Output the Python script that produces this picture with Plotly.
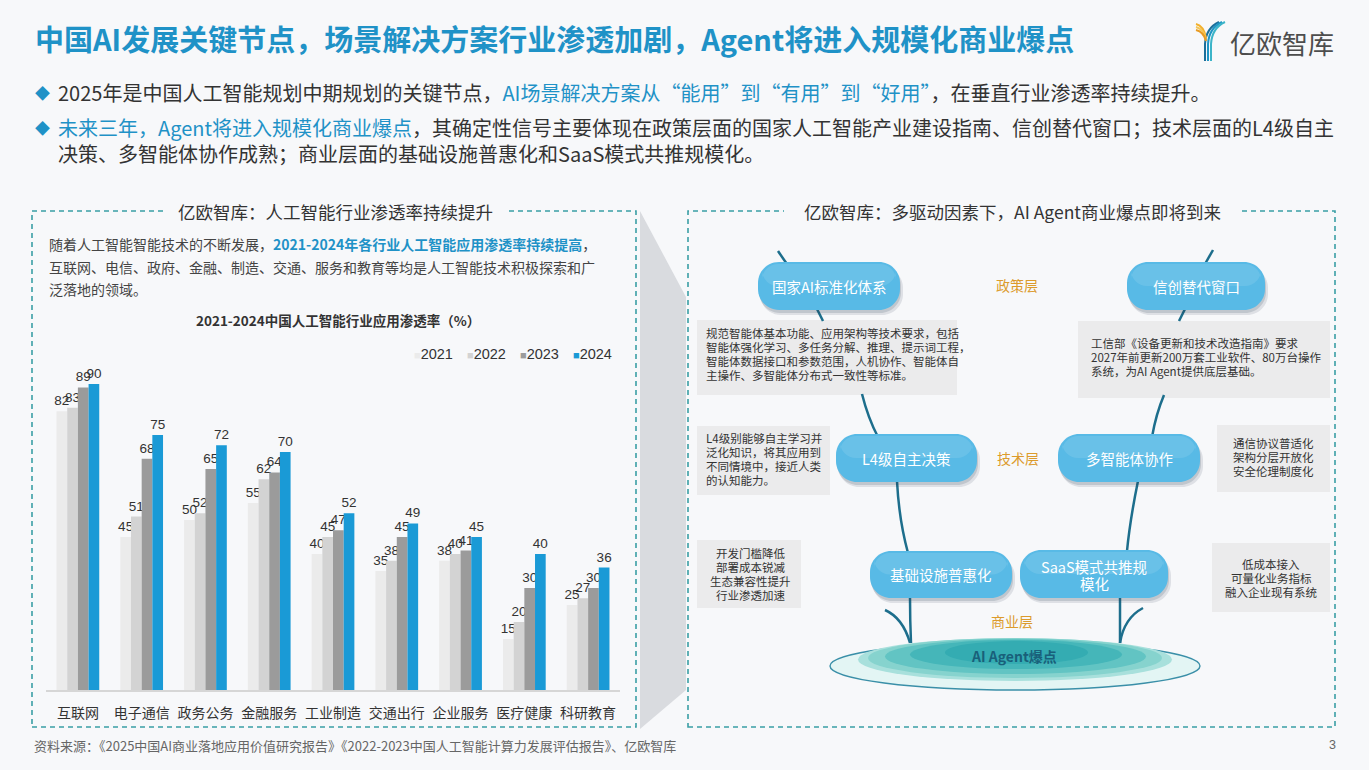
import plotly.graph_objects as go

W, H = 1369, 770
FONT = "Noto Sans CJK SC"
NUMFONT = "Liberation Sans, Noto Sans CJK SC"
BG = "#f7f8fa"
BLUE = "#1f92c7"
TEAL = "#3a9ea5"
LINE = "#1d6e8c"

# ---------------- data ----------------
categories = ["互联网", "电子通信", "政务公务", "金融服务", "工业制造", "交通出行", "企业服务", "医疗健康", "科研教育"]
years = ["2021", "2022", "2023", "2024"]
v2021 = [82, 45, 50, 55, 40, 35, 38, 15, 25]
v2022 = [83, 51, 52, 62, 45, 38, 40, 20, 27]
v2023 = [89, 68, 65, 64, 47, 45, 41, 30, 30]
v2024 = [90, 75, 72, 70, 52, 49, 45, 40, 36]
series_values = [v2021, v2022, v2023, v2024]
series_colors = ["#ebebeb", "#d3d3d3", "#9b9b9b", "#1a9ad6"]


def X(px):
    return px / W


def Y(py):
    return 1 - py / H


annotations = []
shapes = []


def txt(x, y, s, size, color="#333333", anchor="left", family=FONT, yanchor="middle"):
    annotations.append(dict(x=X(x), y=Y(y), xref="paper", yref="paper", text=s, showarrow=False,
                            xanchor=anchor, yanchor=yanchor, align=anchor if anchor != "center" else "center",
                            font=dict(size=size, color=color, family=family)))


def pt(x, y):
    return f"{X(x):.5f},{Y(y):.5f}"


def rrect_path(x0, y0, x1, y1, r):
    k = 0.5523 * r
    return ("M " + pt(x0 + r, y0) + " L " + pt(x1 - r, y0) +
            " C " + pt(x1 - r + k, y0) + " " + pt(x1, y0 + r - k) + " " + pt(x1, y0 + r) +
            " L " + pt(x1, y1 - r) +
            " C " + pt(x1, y1 - r + k) + " " + pt(x1 - r + k, y1) + " " + pt(x1 - r, y1) +
            " L " + pt(x0 + r, y1) +
            " C " + pt(x0 + r - k, y1) + " " + pt(x0, y1 - r + k) + " " + pt(x0, y1 - r) +
            " L " + pt(x0, y0 + r) +
            " C " + pt(x0, y0 + r - k) + " " + pt(x0 + r - k, y0) + " " + pt(x0 + r, y0) + " Z")


def rect(x0, y0, x1, y1, fill, line=None, dash=None, width=1.5):
    shapes.append(dict(type="rect", xref="paper", yref="paper", x0=X(x0), x1=X(x1), y0=Y(y1), y1=Y(y0),
                       fillcolor=fill, line=dict(color=line or "rgba(0,0,0,0)", width=width if line else 0, dash=dash),
                       layer="below"))


def path(d, color=LINE, width=2.5, fill=None):
    shapes.append(dict(type="path", xref="paper", yref="paper", path=d,
                       line=dict(color=color, width=width), fillcolor=fill or "rgba(0,0,0,0)", layer="below"))


def curve(x0, y0, cx, cy, x1, y1, color=LINE, width=2.5):
    path("M " + pt(x0, y0) + " Q " + pt(cx, cy) + " " + pt(x1, y1), color, width)


def ellipse(x0, y0, x1, y1, fill, line=None, width=1.5):
    shapes.append(dict(type="circle", xref="paper", yref="paper", x0=X(x0), x1=X(x1), y0=Y(y1), y1=Y(y0),
                       fillcolor=fill, line=dict(color=line or "rgba(0,0,0,0)", width=width if line else 0),
                       layer="below"))


# ---------------- header ----------------
txt(33, 38, "<b>中国AI发展关键节点，场景解决方案行业渗透加剧，Agent将进入规模化商业爆点</b>", 29, BLUE)

# logo
for i, c in enumerate(["#1c6f9a", "#1f95c5", "#3cb4c8"]):
    d = i * 3
    path("M " + pt(1205 + d, 61) + " L " + pt(1205 + d, 44) + " Q " + pt(1206 + d, 28) + " " + pt(1219 + d, 22), c, 2)
for i, c in enumerate(["#f2b02c", "#f4c554", "#e89a22"]):
    d = i * 3
    path("M " + pt(1196, 24 + d) + " Q " + pt(1204, 26 + d) + " " + pt(1206, 38 + d * 0.5), c, 2)
txt(1228, 43, "亿欧智库", 26, "#4d4d4d")

# bullets
txt(33, 93, "◆", 15, BLUE)
txt(56, 93, "2025年是中国人工智能规划中期规划的关键节点，"
    f"<span style='color:{BLUE}'>AI场景解决方案从“能用”到“有用”到“好用”</span>，在垂直行业渗透率持续提升。",
    20, "#333333")
txt(33, 127, "◆", 15, BLUE)
txt(56, 127, f"<span style='color:{BLUE}'>未来三年，Agent将进入规模化商业爆点</span>，"
    "其确定性信号主要体现在政策层面的国家人工智能产业建设指南、信创替代窗口；技术层面的L4级自主",
    20, "#333333")
txt(56, 153, "决策、多智能体协作成熟；商业层面的基础设施普惠化和SaaS模式共推规模化。", 20, "#333333")

# ---------------- panels ----------------
# connector between panels
path("M " + pt(640, 211) + " L " + pt(686, 297) + " L " + pt(686, 690) + " L " + pt(640, 729) + " Z",
     "rgba(0,0,0,0)", 0, "#d9dbdf")

rect(32, 211, 636, 727, "rgba(0,0,0,0)", TEAL, "5px,4px", 1.6)
rect(688, 211, 1335, 727, "rgba(0,0,0,0)", TEAL, "5px,4px", 1.6)
rect(163, 203, 506, 220, BG)
rect(784, 203, 1240, 220, BG)
txt(335, 211, "亿欧智库：人工智能行业渗透率持续提升", 17.5, "#333333", "center")
txt(1012, 211, "亿欧智库：多驱动因素下，AI Agent商业爆点即将到来", 17.5, "#333333", "center")

# left paragraph
txt(47, 244, f"随着人工智能智能技术的不断发展，<b><span style='color:{BLUE}'>2021-2024年各行业人工智能应用渗透率持续提高</span></b>，",
    14, "#444444")
txt(47, 267, "互联网、电信、政府、金融、制造、交通、服务和教育等均是人工智能技术积极探索和广", 14, "#444444")
txt(47, 289, "泛落地的领域。", 14, "#444444")
txt(338, 320, "<b>2021-2024中国人工智能行业应用渗透率（%）</b>", 13.5, "#333333", "center")

# custom legend
for i, (yr, col) in enumerate(zip(years, series_colors)):
    txt(412 + i * 53, 354, f"<span style='color:{col};font-size:11px'>■</span>{yr}", 14.5, "#333333", family=NUMFONT)

# ---------------- right diagram ----------------
boxes = [
    (697, 320, 957, 395, "left", 704, [333, 347, 361, 375],
     ["规范智能体基本功能、应用架构等技术要求，包括", "智能体强化学习、多任务分解、推理、提示词工程，",
      "智能体数据接口和参数范围，人机协作、智能体自", "主操作、多智能体分布式一致性等标准。"]),
    (1078, 321, 1330, 398, "left", 1089, [343, 357, 371],
     ["工信部《设备更新和技术改造指南》要求", "2027年前更新200万套工业软件、80万台操作", "系统，为AI Agent提供底层基础。"]),
    (697, 426, 830, 495, "left", 704, [438, 452, 466, 480],
     ["L4级别能够自主学习并", "泛化知识，将其应用到", "不同情境中，接近人类", "的认知能力。"]),
    (1217, 425, 1330, 492, "center", 1273, [443, 457, 471],
     ["通信协议普适化", "架构分层开放化", "安全伦理制度化"]),
    (697, 540, 801, 608, "center", 750, [553, 567, 581, 595],
     ["开发门槛降低", "部署成本锐减", "生态兼容性提升", "行业渗透加速"]),
    (1212, 543, 1330, 612, "center", 1271, [564, 578, 592],
     ["低成本接入", "可量化业务指标", "融入企业现有系统"]),
]
for x0, y0, x1, y1, al, tx, ys, lines in boxes:
    rect(x0, y0, x1, y1, "#ebebec")
    for yy, s in zip(ys, lines):
        txt(tx, yy, s, 11.5, "#333333", al)

# connecting lines
curve(778, 251, 782, 257, 787, 264)
curve(817, 309, 820, 315, 823, 321)
curve(1213, 250, 1209, 257, 1205, 264)
curve(1185, 309, 1182, 315, 1179, 321)
curve(862, 394, 868, 418, 878, 437)
curve(897, 481, 899, 520, 908, 553)
curve(1164, 395, 1156, 414, 1152, 437)
curve(1138, 481, 1130, 520, 1127, 551)
curve(910, 598, 910, 620, 911, 643)
curve(885, 610, 903, 618, 910, 643)
curve(1120, 598, 1120, 620, 1120, 643)
curve(1143, 608, 1124, 618, 1120, 643)

# bottom ellipse
ellipse(830, 642, 1200, 690, "rgba(214,243,240,0.6)", "#3a8fa8", 1.4)
for (ex0, ey0, ex1, ey1, c) in [(858, 638, 1172, 681, "#a8e0dc"), (868, 638, 1162, 678, "#86d3ce"),
                                (885, 639, 1146, 674, "#62c4c3"), (910, 640, 1122, 669, "#45b6b9"),
                                (945, 641, 1088, 664, "#34acb2")]:
    ellipse(ex0, ey0, ex1, ey1, c)
txt(1014, 656, "<b>AI Agent爆点</b>", 14, "#19607a", "center")

# pills
pills = [
    (758, 262, 900, 310, ["国家AI标准化体系"]),
    (1127, 262, 1265, 310, ["信创替代窗口"]),
    (836, 434, 977, 482, ["L4级自主决策"]),
    (1058, 434, 1200, 482, ["多智能体协作"]),
    (870, 551, 1012, 598, ["基础设施普惠化"]),
    (1020, 550, 1168, 598, ["SaaS模式共推规", "模化"]),
]
for x0, y0, x1, y1, lab in pills:
    path(rrect_path(x0 + 2, y0 + 5, x1 + 3, y1 + 5, 21), "rgba(0,0,0,0)", 0, "rgba(40,60,80,0.12)")
    path(rrect_path(x0 + 1, y0 + 3, x1 + 1, y1 + 3, 21), "rgba(0,0,0,0)", 0, "rgba(40,60,80,0.16)")
    path(rrect_path(x0, y0, x1, y1, 21), "rgba(0,0,0,0)", 0, "#58bae6")
    path(rrect_path(x0 + 4, y0 + 2, x1 - 4, (y0 + y1) / 2, 16), "rgba(0,0,0,0)", 0, "rgba(255,255,255,0.10)")
    cx, cy = (x0 + x1) / 2, (y0 + y1) / 2
    if len(lab) == 1:
        txt(cx, cy, lab[0], 14.5, "white", "center")
    else:
        txt(cx, cy - 8, lab[0], 14.5, "white", "center")
        txt(cx, cy + 9, lab[1], 14.5, "white", "center")

txt(1017, 285, "政策层", 14, "#dc9b2c", "center")
txt(1018, 458, "技术层", 14, "#dc9b2c", "center")
txt(1012, 621, "商业层", 14, "#dc9b2c", "center")

# footer
txt(32, 745, "资料来源：《2025中国AI商业落地应用价值研究报告》《2022-2023中国人工智能计算力发展评估报告》、亿欧智库", 13, "#666666")
txt(1338, 745, "3", 12.5, "#666666", "right", NUMFONT)

# ---------------- bars ----------------
fig = go.Figure()
for yr, vals, col in zip(years, series_values, series_colors):
    fig.add_trace(go.Bar(x=categories, y=vals, name=yr, marker=dict(color=col, line=dict(width=0)),
                         text=vals, textposition="outside", constraintext="none", cliponaxis=False,
                         textfont=dict(size=13.5, color="#333333", family=NUMFONT)))

fig.update_layout(
    width=W, height=H, margin=dict(l=0, r=0, t=0, b=0),
    paper_bgcolor=BG, plot_bgcolor="rgba(0,0,0,0)",
    barmode="group", bargap=0.33, bargroupgap=0.0,
    showlegend=False,
    xaxis=dict(domain=[X(46), X(620)], showgrid=False, showline=True, linecolor="#d6d6d6", linewidth=1.5,
               ticks="", tickfont=dict(size=14, color="#333333", family=FONT), ticklabelstandoff=9,
               fixedrange=True),
    yaxis=dict(domain=[Y(690), Y(350)], range=[0, 100], visible=False, fixedrange=True),
    annotations=annotations, shapes=shapes,
    font=dict(family=FONT),
)
fig.write_html("out.html")
